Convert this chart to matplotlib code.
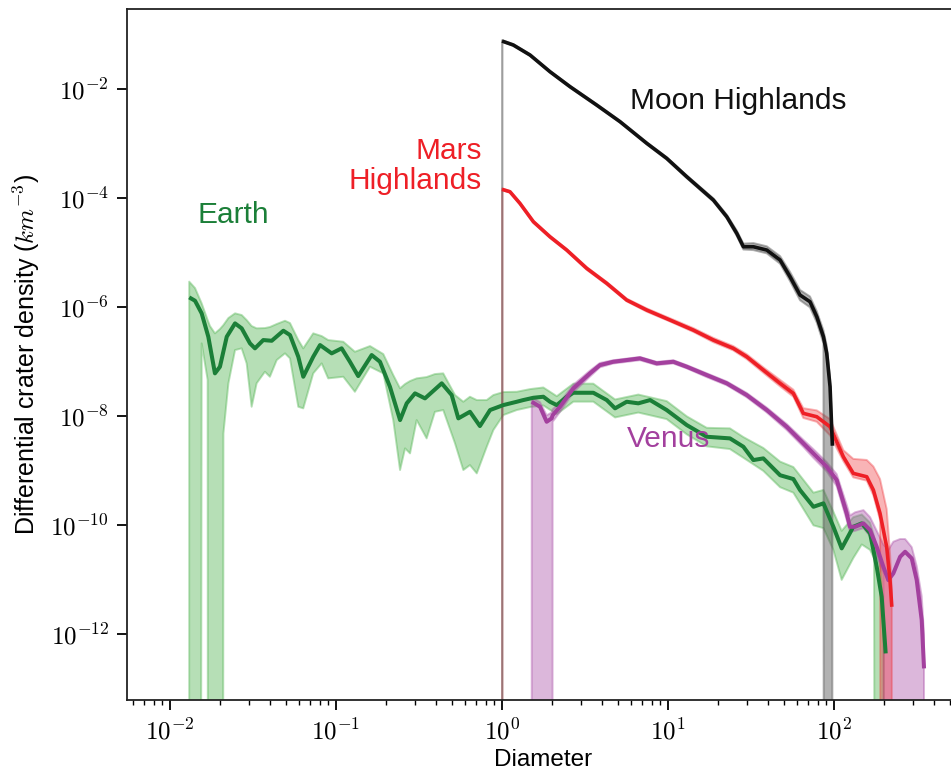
import numpy as np
import matplotlib.pyplot as plt
from matplotlib.ticker import FixedLocator, FuncFormatter, LogLocator, NullLocator, NullFormatter

plt.rcParams['font.family'] = ['Liberation Sans', 'DejaVu Sans']
plt.rcParams['mathtext.fontset'] = 'cm'

# all values are log10: diameter in km, density in km^-3
# FLOOR marks bins with no lower bound (drawn down past the axis)
FLOOR = -99.0

moon_logd = [0.000, 0.068, 0.169, 0.289, 0.410, 0.570, 0.711, 0.872, 0.992, 1.113,
             1.273, 1.354, 1.414, 1.454, 1.514, 1.595, 1.675, 1.735, 1.795, 1.855,
             1.896, 1.936, 1.956, 1.976, 1.990]
moon_logn = [-1.114, -1.187, -1.371, -1.677, -1.952, -2.288, -2.594, -2.991, -3.266, -3.604,
             -4.031, -4.338, -4.642, -4.888, -4.888, -4.949, -5.132, -5.439, -5.774, -5.897,
             -6.172, -6.539, -6.844, -7.457, -8.539]
moon_band_logd = [0.000, 0.003, 0.068, 0.169, 0.289, 0.410, 0.570, 0.711, 0.872, 0.992, 1.113,
                  1.273, 1.354, 1.414, 1.454, 1.514, 1.595, 1.675, 1.735, 1.795, 1.855,
                  1.896, 1.936, 1.956, 1.976, 1.990]
moon_hi = [-1.10, -1.10, -1.17, -1.355, -1.66, -1.935, -2.27, -2.575, -2.97, -3.245, -3.58,
           -4.00, -4.30, -4.59, -4.83, -4.82, -4.88, -5.06, -5.35, -5.68, -5.80,
           -6.07, -6.42, -6.70, -7.30, -8.30]
moon_lo = [FLOOR, -1.13, -1.20, -1.385, -1.69, -1.97, -2.305, -2.61, -3.01, -3.29, -3.63,
           -4.06, -4.37, -4.69, -4.94, -4.95, -5.01, -5.20, -5.52, -5.87, -6.00,
           -6.28, -6.66, FLOOR, FLOOR, FLOOR]

mars_logd = [0.000, 0.048, 0.108, 0.189, 0.289, 0.390, 0.510, 0.631, 0.751, 0.872,
             1.012, 1.152, 1.273, 1.393, 1.474, 1.574, 1.675, 1.755, 1.815, 1.896,
             1.976, 2.056, 2.116, 2.197, 2.237, 2.277, 2.317, 2.337, 2.348]
mars_logn = [-3.835, -3.879, -4.092, -4.429, -4.705, -4.949, -5.284, -5.560, -5.866, -6.050,
             -6.233, -6.417, -6.600, -6.752, -6.906, -7.150, -7.394, -7.578, -7.945, -8.007,
             -8.191, -8.741, -9.046, -9.108, -9.352, -9.780, -10.393, -11.004, -11.494]
mars_band_logd = [0.000, 0.003, 0.048, 0.108, 0.189, 0.289, 0.390, 0.510, 0.631, 0.751, 0.872,
                  1.012, 1.152, 1.273, 1.393, 1.474, 1.574, 1.675, 1.755, 1.815, 1.896,
                  1.976, 2.056, 2.116, 2.197, 2.237, 2.277, 2.317, 2.337, 2.348]
mars_hi = [-3.82, -3.82, -3.865, -4.075, -4.41, -4.685, -4.93, -5.26, -5.535, -5.84, -6.02,
           -6.20, -6.38, -6.56, -6.71, -6.86, -7.10, -7.33, -7.51, -7.85, -7.89,
           -8.05, -8.62, -8.78, -8.80, -8.92, -9.15, -9.70, -10.50, -11.20]
mars_lo = [FLOOR, -3.85, -3.895, -4.11, -4.45, -4.725, -4.97, -5.31, -5.585, -5.89, -6.08,
           -6.26, -6.45, -6.64, -6.79, -6.95, -7.20, -7.45, -7.64, -8.03, -8.10,
           -8.35, -8.82, -9.12, -9.18, -9.45, -9.90, FLOOR, FLOOR, FLOOR]

venus_logd = [0.179, 0.229, 0.269, 0.299, 0.305, 0.349, 0.430, 0.530, 0.590, 0.670,
              0.751, 0.831, 0.932, 1.032, 1.113, 1.233, 1.354, 1.474, 1.595, 1.715,
              1.815, 1.875, 1.956, 2.016, 2.076, 2.096, 2.127, 2.177, 2.217, 2.257,
              2.297, 2.327, 2.357, 2.398, 2.428, 2.468, 2.498, 2.528, 2.542]
venus_logn = [-7.732, -7.824, -8.099, -8.037, -7.98, -7.824, -7.486, -7.211, -7.059, -6.998,
              -6.967, -6.936, -7.028, -6.998, -7.090, -7.242, -7.394, -7.609, -7.884, -8.191,
              -8.495, -8.679, -8.925, -9.169, -9.780, -10.026, -10.026, -9.963, -10.086, -10.393,
              -10.760, -11.004, -10.881, -10.576, -10.484, -10.606, -11.004, -11.738, -12.624]
venus_hi = [-7.65, -7.74, -7.98, -7.93, -7.87, -7.74, -7.42, -7.16, -7.02, -6.97,
            -6.94, -6.91, -7.00, -6.97, -7.06, -7.21, -7.36, -7.57, -7.84, -8.14,
            -8.43, -8.60, -8.84, -9.06, -9.62, -9.82, -9.76, -9.72, -9.85, -10.10,
            -10.35, -10.45, -10.30, -10.25, -10.25, -10.40, -10.75, -11.30, -12.00]
venus_lo = [FLOOR, FLOOR, FLOOR, FLOOR, -8.10, -7.92, -7.56, -7.27, -7.10, -7.03,
            -7.00, -6.97, -7.06, -7.03, -7.12, -7.28, -7.43, -7.65, -7.93, -8.25,
            -8.56, -8.76, -9.01, -9.28, -9.90, -10.12, -10.10, -10.05, -10.20, -10.55,
            -10.90, FLOOR, FLOOR, FLOOR, FLOOR, FLOOR, FLOOR, FLOOR, FLOOR]

earth_logd = [-1.884, -1.849, -1.809, -1.769, -1.729, -1.699, -1.658, -1.608, -1.568, -1.518,
              -1.488, -1.438, -1.387, -1.317, -1.277, -1.227, -1.197, -1.137, -1.096, -1.026,
              -0.966, -0.916, -0.866, -0.785, -0.735, -0.675, -0.614, -0.574, -0.524, -0.464,
              -0.363, -0.303, -0.263, -0.193, -0.133, -0.072, 0.008, 0.089, 0.128, 0.189,
              0.249, 0.289, 0.330, 0.390, 0.430, 0.550, 0.631, 0.681, 0.751, 0.821,
              0.892, 0.992, 1.113, 1.233, 1.373, 1.454, 1.514, 1.574, 1.675, 1.755,
              1.795, 1.876, 1.936, 1.996, 2.046, 2.116, 2.167, 2.217, 2.257, 2.287, 2.311]
earth_logn = [-5.817, -5.879, -6.110, -6.539, -7.211, -7.090, -6.539, -6.294, -6.385, -6.661,
              -6.752, -6.600, -6.613, -6.429, -6.508, -6.906, -7.273, -6.906, -6.692, -6.844,
              -6.752, -6.998, -7.261, -6.875, -6.998, -7.457, -8.068, -7.761, -7.578, -7.670,
              -7.394, -7.609, -8.037, -7.916, -8.178, -7.884, -7.793, -7.732, -7.701, -7.659,
              -7.640, -7.732, -7.793, -7.640, -7.567, -7.567, -7.701, -7.853, -7.732, -7.761,
              -7.701, -7.884, -8.160, -8.374, -8.404, -8.558, -8.802, -8.771, -9.080, -9.150,
              -9.352, -9.659, -9.596, -10.026, -10.422, -10.026, -9.963, -10.147, -10.760, -11.310, -12.349]

earth_band_logd = [-1.884, -1.849, -1.809, -1.773, -1.759, -1.729, -1.699, -1.678, -1.648, -1.608,
                   -1.568, -1.538, -1.508, -1.478, -1.428, -1.398, -1.357, -1.307, -1.277, -1.227,
                   -1.197, -1.137, -1.086, -1.047, -0.956, -0.886, -0.795, -0.715, -0.655, -0.614,
                   -0.584, -0.554, -0.514, -0.454, -0.404, -0.354, -0.283, -0.233, -0.193, -0.152,
                   -0.092, -0.052, 0.008, 0.089, 0.169, 0.249, 0.330, 0.430, 0.550, 0.681,
                   0.821, 0.992, 1.113, 1.233, 1.373, 1.454, 1.574, 1.675, 1.755, 1.876,
                   1.936, 1.996, 2.046, 2.116, 2.167, 2.217, 2.241, 2.287, 2.300]
earth_hi = [-5.528, -5.646, -5.927, -6.233, -6.343, -6.477, -6.398, -6.325, -6.196, -6.110,
            -6.141, -6.233, -6.343, -6.385, -6.380, -6.361, -6.306, -6.246, -6.288, -6.600,
            -6.752, -6.477, -6.527, -6.600, -6.631, -6.815, -6.710, -6.857, -7.242, -7.486,
            -7.407, -7.352, -7.303, -7.279, -7.224, -7.211, -7.609, -7.732, -7.640, -7.701,
            -7.701, -7.609, -7.554, -7.549, -7.50, -7.47, -7.63, -7.40, -7.40, -7.69,
            -7.60, -7.72, -8.00, -8.21, -8.22, -8.38, -8.58, -8.83, -8.93, -9.40,
            -9.35, -9.75, -10.10, -9.85, -9.80, -9.95, -10.20, -10.90, -12.30]
earth_lo = [FLOOR, FLOOR, -6.661, -7.330, FLOOR, FLOOR, FLOOR, -8.312, -7.394, -6.784,
            -6.752, -7.028, -7.824, -7.394, -7.182, -7.273, -6.967, -6.844, -6.936, -7.824,
            -7.853, -7.211, -7.028, -7.303, -7.273, -7.549, -7.090, -7.211, -8.068, -8.985,
            -8.587, -8.679, -8.068, -8.404, -7.916, -7.884, -8.495, -8.985, -8.894, -9.046,
            -8.558, -8.251, -7.976, -7.884, -7.83, -7.80, -7.96, -7.73, -7.73, -8.02,
            -7.93, -8.05, -8.33, -8.55, -8.60, -8.76, -9.00, -9.30, -9.40, -10.00,
            -10.05, -10.45, -11.00, -10.60, -10.35, -10.45, -10.60, FLOOR, FLOOR]


def draw(ax, logd, logn, band_logd, hi, lo, line_color, fill_color, fill_alpha=0.4, lw=2.6):
    d = 10.0 ** np.asarray(band_logd)
    ax.fill_between(d, 10.0 ** np.asarray(lo), 10.0 ** np.asarray(hi),
                    facecolor=fill_color, edgecolor=fill_color, alpha=fill_alpha, lw=1.4)
    ax.plot(10.0 ** np.asarray(logd), 10.0 ** np.asarray(logn), color=line_color, lw=lw,
            solid_joinstyle='round', solid_capstyle='butt')


fig = plt.figure(figsize=(9.51, 7.73), dpi=100)
ax = fig.add_axes([0.1335, 0.094, 0.8865, 0.8943])

draw(ax, earth_logd, earth_logn, earth_band_logd, earth_hi, earth_lo, '#1b7f38', '#52b452', 0.42, 2.9)
draw(ax, venus_logd, venus_logn, venus_logd, venus_hi, venus_lo, '#a3409e', '#a84ca6', 0.4, 2.9)
draw(ax, mars_logd, mars_logn, mars_band_logd, mars_hi, mars_lo, '#ee1f26', '#ee2a30', 0.35, 2.6)
draw(ax, moon_logd, moon_logn, moon_band_logd, moon_hi, moon_lo, '#111111', '#555555', 0.45, 2.6)

ax.set_xscale('log')
ax.set_yscale('log')
ax.set_xlim(10 ** -2.259, 10 ** 2.819)
ax.set_ylim(10 ** -13.21, 10 ** -0.527)

pow_fmt = FuncFormatter(lambda v, pos: r'$10^{%d}$' % int(round(np.log10(v))))
ax.xaxis.set_major_locator(LogLocator(base=10, numticks=15))
ax.xaxis.set_minor_locator(LogLocator(base=10, subs=np.arange(2, 10), numticks=15))
ax.xaxis.set_major_formatter(pow_fmt)
ax.xaxis.set_minor_formatter(NullFormatter())
ax.yaxis.set_major_locator(FixedLocator([1e-12, 1e-10, 1e-8, 1e-6, 1e-4, 1e-2]))
ax.yaxis.set_minor_locator(NullLocator())
ax.yaxis.set_major_formatter(pow_fmt)

ax.tick_params(which='major', direction='out', length=7, width=1.3, labelsize=18, pad=6)
ax.tick_params(which='minor', direction='out', length=3.5, width=1.0)
ax.spines['right'].set_visible(False)
for s in ('left', 'bottom', 'top'):
    ax.spines[s].set_linewidth(1.3)
    ax.spines[s].set_color('#222222')

ax.set_xlabel('Diameter', fontsize=17.5)
ax.xaxis.set_label_coords(0.4935, -0.070)
ax.set_ylabel('Differential crater density ($km^{-3}$)', fontsize=18, labelpad=6)

ax.text(10 ** 0.771, 10 ** -2.367, 'Moon Highlands', color='#111111', fontsize=21.5,
        ha='left', va='baseline')
ax.text(10 ** -0.12, 10 ** -3.407, 'Mars\nHighlands', color='#ee1f26', fontsize=21.5,
        ha='right', va='center', multialignment='right', linespacing=1.1)
ax.text(10 ** -1.837, 10 ** -4.448, 'Earth', color='#1b7f38', fontsize=21.5,
        ha='left', va='baseline')
ax.text(10 ** 0.751, 10 ** -8.558, 'Venus', color='#a3409e', fontsize=21.5,
        ha='left', va='baseline')

fig.savefig('out.png', dpi=100)
